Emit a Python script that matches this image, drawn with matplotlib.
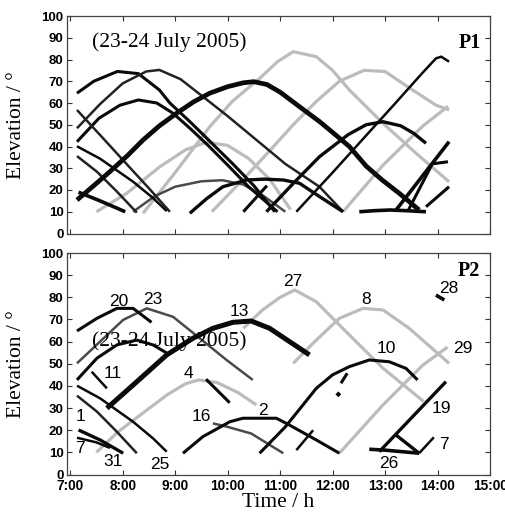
import matplotlib
matplotlib.use("Agg")
import matplotlib.pyplot as plt

# ---------------- data (time in hours, elevation in degrees) ----------------
hours = [7, 8, 9, 10, 11, 12, 13, 14, 15]
hour_labels = ["7:00", "8:00", "9:00", "10:00", "11:00", "12:00", "13:00", "14:00", "15:00"]
elev_ticks = [0, 10, 20, 30, 40, 50, 60, 70, 80, 90, 100]

# ---- panel P1 ----
p1_s20_t = [7.13, 7.45, 7.9, 8.3, 8.7, 8.9, 9.3, 9.7, 10.1, 10.5, 10.9]
p1_s20_e = [64.5, 70, 74.5, 73.5, 66, 60, 51, 41.5, 32, 22, 10]
p1_s61_t = [7.13, 7.55, 7.95, 8.3, 8.65, 8.96, 9.3, 9.65, 10.0, 10.4, 10.95]
p1_s61_e = [42.2, 53, 59, 61.4, 60, 55.3, 48, 40, 31.5, 21.5, 10]
p1_s23_t = [7.13, 7.57, 8.0, 8.45, 8.7, 9.1, 9.5, 10.0, 10.55, 11.1, 11.75, 12.2]
p1_s23_e = [48.4, 59.5, 69, 74.5, 75.2, 71, 63.5, 54, 43, 32, 21.5, 10]
p1_s11_t = [7.13, 7.6, 8.1, 8.5, 8.9]
p1_s11_e = [56.8, 44.5, 31.3, 20.8, 10]
p1_s25_t = [7.13, 7.57, 8.2, 8.58, 8.84]
p1_s25_e = [40.1, 34.4, 23.8, 16.3, 10.3]
p1_s1_t = [7.13, 7.51, 7.89, 8.27]
p1_s1_e = [35.6, 28.4, 19.3, 9.6]
p1_s31_t = [7.16, 7.57, 8.05]
p1_s31_e = [19, 15, 10]
p1_s13_t = [7.13, 7.45, 7.76, 8.1, 8.39, 8.7, 9.03, 9.35, 9.66, 10.0, 10.3, 10.5,
            10.75, 11.0, 11.37, 11.75, 12.0, 12.32, 12.64, 12.95, 13.27, 13.65]
p1_s13_e = [15.4, 22, 28.5, 36, 43, 49.5, 55.3, 60.5, 64.5, 67.5, 69.3, 69.8,
            68.5, 65, 58.3, 51.5, 46.5, 40, 31, 24.5, 18.5, 10.8]
p1_s2_t = [9.28, 9.6, 9.91, 10.36, 10.7, 11.06, 11.37, 11.75, 12.2]
p1_s2_e = [9.3, 16, 21.5, 24.6, 25, 24.6, 23.1, 17, 10]
p1_s10_t = [10.74, 11.25, 11.75, 12.3, 12.64, 12.96, 13.3, 13.55, 13.78]
p1_s10_e = [10, 23, 35.3, 45.5, 50, 51.4, 49.5, 46, 41.5]
p1_s28_t = [11.31, 12.0, 12.6, 13.2, 13.7, 13.97, 14.07, 14.22]
p1_s28_e = [10, 28, 44, 60, 73.5, 80.5, 81.3, 79]
p1_s19_t = [13.21, 14.22]
p1_s19_e = [10.8, 42.2]
p1_s7_t = [13.78, 14.22]
p1_s7_e = [12.3, 21.5]
p1_s26_t = [12.51, 12.8, 13.1, 13.4, 13.78]
p1_s26_e = [10, 10.5, 10.8, 10.5, 10]
p1_sx_t = [13.45, 13.9, 14.2]
p1_sx_e = [11, 32, 33]
p1_sy_t = [10.3, 10.75]
p1_sy_e = [10, 22]
p1_s16_t = [8.2, 8.6, 9.0, 9.5, 9.9, 10.3, 10.7, 11.1]
p1_s16_e = [10, 17, 21.5, 24, 24.5, 22.5, 17, 10]
p1_s4_t = [7.5, 8.08, 8.71, 9.2, 9.6, 10.0, 10.4, 10.8, 11.2]
p1_s4_e = [10, 18.5, 30.7, 38.5, 42, 40.5, 34.5, 25, 11]
p1_s27_t = [8.39, 9.0, 9.66, 10.1, 10.61, 10.95, 11.25, 11.69, 12.0, 12.32, 12.96, 13.59, 14.22]
p1_s27_e = [9.3, 28, 49.1, 61, 71.3, 79, 83.6, 81.3, 75, 66, 50.7, 36.9, 23.8]
p1_s8_t = [9.7, 10.3, 10.8, 11.25, 11.69, 12.13, 12.6, 13.0, 13.46, 13.97, 14.22]
p1_s8_e = [10, 25, 38, 50, 60.7, 70, 75, 74.5, 67, 59, 56.8]
p1_s29_t = [12.2, 12.96, 13.72, 14.2]
p1_s29_e = [10, 31.4, 49.4, 58.5]

# ---- panel P2 ----
p2_s20_t = [7.13, 7.51, 7.89, 8.2, 8.55]
p2_s20_e = [64.8, 70.5, 75, 75, 68.7]
p2_s61_t = [7.13, 7.51, 7.89, 8.27, 8.58, 8.9]
p2_s61_e = [42.7, 52.5, 58.5, 60.7, 58.5, 54]
p2_s13_t = [7.7, 8.2, 8.84, 9.34, 9.72, 10.1, 10.45, 10.8, 11.18, 11.56]
p2_s13_e = [29.9, 40.4, 54, 61.5, 66, 68.7, 69.3, 66, 60, 54]
p2_s11_t = [7.41, 7.7]
p2_s11_e = [46.4, 38.9]
p2_s25_t = [7.13, 7.57, 8.2, 8.58, 8.84]
p2_s25_e = [40.1, 34.4, 23.8, 16.3, 10.3]
p2_s1_t = [7.13, 7.51, 7.89, 8.27]
p2_s1_e = [35.6, 28.4, 19.3, 9.6]
p2_s31_t = [7.16, 7.57, 8.01]
p2_s31_e = [20.1, 15.6, 9.6]
p2_s7_t = [7.13, 7.5, 7.76]
p2_s7_e = [16.6, 14.5, 12]
p2_s4_t = [9.59, 10.04]
p2_s4_e = [43, 32.4]
p2_s2_t = [9.15, 9.53, 10.04, 10.29, 10.93, 11.18, 11.69, 12.13]
p2_s2_e = [9.6, 17.1, 23.8, 25.4, 25.4, 22.3, 15.6, 9.6]
p2_s10_t = [10.61, 11.1, 11.69, 12.0, 12.32, 12.70, 13.08, 13.40, 13.62]
p2_s10_e = [9.6, 21.5, 38.9, 45, 48.7, 51.7, 50.9, 47.9, 42.7]
p2_s19_t = [12.89, 14.16]
p2_s19_e = [10.3, 41.9]
p2_s26_t = [12.70, 13.0, 13.65]
p2_s26_e = [11.4, 11, 9.6]
p2_tri_t = [13.21, 13.65]
p2_tri_e = [17.8, 9.6]
p2_s7b_t = [13.65, 13.93]
p2_s7b_e = [9.6, 16.8]
p2_s28_t = [13.97, 14.13]
p2_s28_e = [81, 78.8]
p2_fa_t = [11.31, 11.63]
p2_fa_e = [11, 20]
p2_fb_t = [12.16, 12.28]
p2_fb_e = [41.2, 45.7]
p2_fc_t = [12.08, 12.14]
p2_fc_e = [36.8, 35.6]
p2_s23_t = [7.13, 7.57, 8.01, 8.46, 8.96, 9.47, 9.98, 10.48]
p2_s23_e = [50.2, 60, 69.8, 75, 71.2, 61.5, 51.7, 42.7]
p2_s16_t = [9.72, 10.0, 10.45, 11.06]
p2_s16_e = [23.1, 21.5, 18.5, 9.6]
p2_s4g_t = [7.5, 7.9, 8.4, 8.85, 9.2, 9.45, 9.8, 10.2, 10.55]
p2_s4g_e = [10, 19, 28, 36, 41, 42.7, 41.5, 37, 31.4]
p2_s27_t = [10.3, 10.65, 11.0, 11.28, 11.69, 12.32, 12.96, 13.74]
p2_s27_e = [66, 74, 80, 83.3, 78, 63, 48, 32.9]
p2_s8_t = [11.25, 11.69, 12.13, 12.58, 12.96, 13.46, 13.97, 14.22]
p2_s8_e = [50.2, 60.7, 70.5, 75, 74.3, 66, 55.4, 50.2]
p2_s29_t = [12.13, 12.96, 13.72, 14.19]
p2_s29_e = [9.6, 31.4, 49.4, 57.5]

prn_labels = ["20", "23", "13", "27", "8", "28", "11", "4", "10", "29",
              "1", "16", "2", "19", "7", "31", "25", "26", "7"]
prn_t = [7.92, 8.58, 10.23, 11.25, 12.64, 14.22, 7.82, 9.25, 13.02, 14.48,
         7.19, 9.50, 10.68, 14.07, 7.18, 7.82, 8.70, 13.08, 14.13]
prn_e = [78.3, 78.8, 73.5, 87, 78.8, 84, 45.7, 45.7, 57, 57,
         26.1, 26.1, 29.1, 29.9, 11.8, 5.8, 4.3, 5.1, 13.6]

# ---------------- styles ----------------
BLACK = "#0a0a0a"
DARK = "#4a4a4a"
GRAY = "#bcbcbc"

p1_tracks = [
    (p1_s4_t, p1_s4_e, GRAY, 2.3), (p1_s27_t, p1_s27_e, GRAY, 2.3),
    (p1_s8_t, p1_s8_e, GRAY, 2.3), (p1_s29_t, p1_s29_e, GRAY, 2.3),
    (p1_s16_t, p1_s16_e, DARK, 1.8),
    (p1_s20_t, p1_s20_e, BLACK, 2.2), (p1_s61_t, p1_s61_e, BLACK, 2.2),
    (p1_s23_t, p1_s23_e, "#222222", 1.8), (p1_s11_t, p1_s11_e, "#222222", 1.8),
    (p1_s25_t, p1_s25_e, BLACK, 1.8), (p1_s1_t, p1_s1_e, "#222222", 1.8),
    (p1_s31_t, p1_s31_e, BLACK, 2.6), (p1_s13_t, p1_s13_e, BLACK, 3.4),
    (p1_s2_t, p1_s2_e, BLACK, 2.4), (p1_s10_t, p1_s10_e, BLACK, 2.4),
    (p1_s28_t, p1_s28_e, BLACK, 1.8), (p1_s19_t, p1_s19_e, BLACK, 2.6),
    (p1_s7_t, p1_s7_e, BLACK, 2.2), (p1_s26_t, p1_s26_e, BLACK, 2.6),
    (p1_sx_t, p1_sx_e, BLACK, 2.2), (p1_sy_t, p1_sy_e, BLACK, 2.2),
]
p2_tracks = [
    (p2_s4g_t, p2_s4g_e, GRAY, 2.3), (p2_s27_t, p2_s27_e, GRAY, 2.3),
    (p2_s8_t, p2_s8_e, GRAY, 2.3), (p2_s29_t, p2_s29_e, GRAY, 2.3),
    (p2_s23_t, p2_s23_e, DARK, 1.8), (p2_s16_t, p2_s16_e, DARK, 1.8),
    (p2_s20_t, p2_s20_e, BLACK, 2.2), (p2_s61_t, p2_s61_e, BLACK, 2.2),
    (p2_s13_t, p2_s13_e, BLACK, 3.6), (p2_s11_t, p2_s11_e, BLACK, 1.8),
    (p2_s25_t, p2_s25_e, BLACK, 1.8), (p2_s1_t, p2_s1_e, "#222222", 1.8),
    (p2_s31_t, p2_s31_e, BLACK, 2.4), (p2_s7_t, p2_s7_e, BLACK, 1.8),
    (p2_s4_t, p2_s4_e, BLACK, 2.2), (p2_s2_t, p2_s2_e, BLACK, 2.2),
    (p2_s10_t, p2_s10_e, BLACK, 2.2), (p2_s19_t, p2_s19_e, BLACK, 2.4),
    (p2_s26_t, p2_s26_e, BLACK, 2.6), (p2_tri_t, p2_tri_e, BLACK, 2.4),
    (p2_s7b_t, p2_s7b_e, BLACK, 1.8), (p2_s28_t, p2_s28_e, BLACK, 2.6),
    (p2_fa_t, p2_fa_e, BLACK, 1.8), (p2_fb_t, p2_fb_e, BLACK, 2.2),
    (p2_fc_t, p2_fc_e, BLACK, 3.0),
]

W, H = 506, 515
fig = plt.figure(figsize=(W / 100, H / 100), dpi=100)
ax1 = fig.add_axes([67 / W, 1 - 233.5 / H, 423 / W, 217.5 / H])
ax2 = fig.add_axes([67 / W, 1 - 474.5 / H, 423 / W, 221.5 / H])

tickfont = dict(family="Liberation Sans", weight="bold", size=9.5)
serif = "Liberation Serif"

for ax, tracks, note_e in ((ax1, p1_tracks, 88), (ax2, p2_tracks, 60)):
    for t, e, c, lw in tracks:
        ax.plot(t, e, color=c, lw=lw, solid_capstyle="butt", solid_joinstyle="round")
    ax.set_xlim(6.94, 15.0)
    ax.set_ylim(0, 100)
    ax.set_xticks(hours)
    ax.set_yticks(elev_ticks)
    ax.set_yticklabels([str(v) for v in elev_ticks], fontdict=tickfont)
    ax.tick_params(direction="in", length=3.5, width=0.8, top=True, right=True,
                   color="#333333")
    ax.tick_params(axis="y", pad=2.5)
    ax.tick_params(axis="x", pad=3.0)
    for sp in ax.spines.values():
        sp.set_linewidth(0.9)
        sp.set_color("#444444")
    ax.set_ylabel("Elevation / \u00b0", family=serif, fontsize=15.5)
    ax.yaxis.set_label_coords(-0.098, 0.5)
    ax.text(7.42, note_e, "(23-24 July 2005)", family=serif, fontsize=15.5,
            va="center", ha="left")

ax1.set_xticklabels([])
ax2.set_xticklabels(hour_labels, fontdict=dict(family="Liberation Sans", weight="bold", size=9.8))
ax2.set_xlabel("Time / h", family=serif, fontsize=15.5, labelpad=0)

ax1.text(0.979, 0.876, "P1", transform=ax1.transAxes, family=serif, weight="bold",
         fontsize=14.5, ha="right", va="center")
ax2.text(0.977, 0.918, "P2", transform=ax2.transAxes, family=serif, weight="bold",
         fontsize=14.5, ha="right", va="center")

for lab, t, e in zip(prn_labels, prn_t, prn_e):
    ax2.text(t, e, lab, family="Liberation Sans", fontsize=12.5, ha="center", va="center")

fig.savefig("out.png", dpi=100)
